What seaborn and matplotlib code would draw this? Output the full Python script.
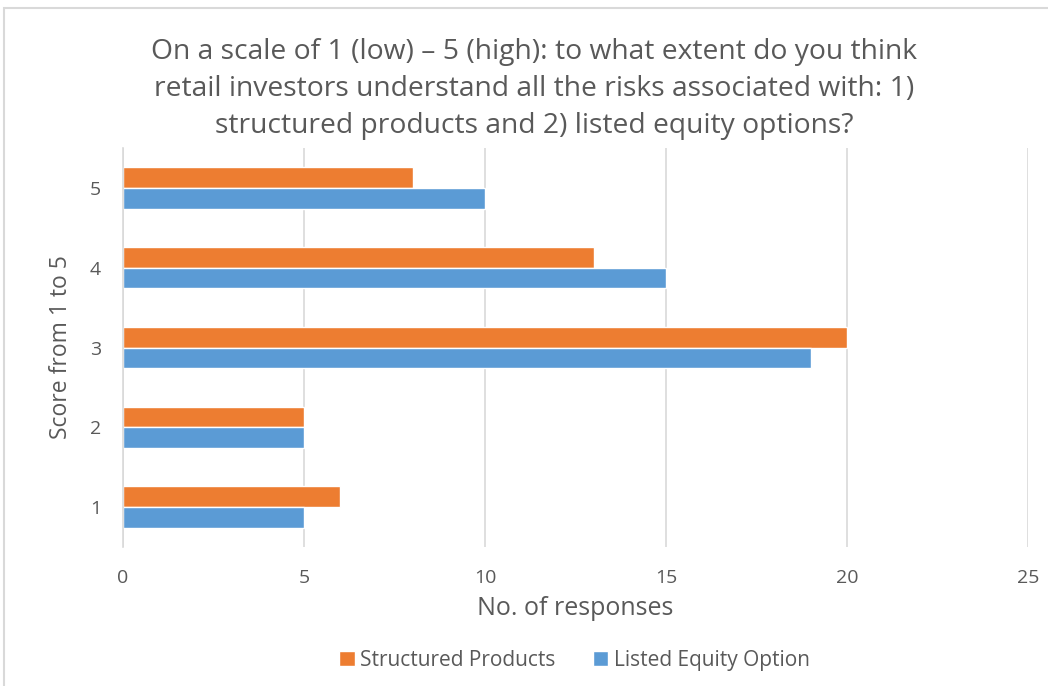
import pandas as pd
import seaborn as sns
import matplotlib.pyplot as plt
from matplotlib.patches import Rectangle

#%% Data
scores = ['5', '4', '3', '2', '1']
structured_products = [8, 13, 20, 5, 6]
listed_equity_option = [10, 15, 19, 5, 5]
series_names = ['Structured Products', 'Listed Equity Option']

df = pd.DataFrame({'Score': scores,
                   series_names[0]: structured_products,
                   series_names[1]: listed_equity_option})
df_long = pd.melt(df, id_vars='Score', var_name='Series', value_name='Responses')

#%% Plotting
sns.set_style('white')
plt.rcParams['font.family'] = ['Open Sans', 'DejaVu Sans']
text_grey = '#595959'

fig = plt.figure(figsize=(10.48, 6.86), dpi=100)
ax = fig.add_axes([0.1174, 0.2026, 0.8636, 0.5816])

sns.barplot(data=df_long, y='Score', x='Responses', hue='Series',
            order=scores, hue_order=series_names,
            palette=['#ED7D31', '#5B9BD5'], orient='h',
            width=0.52, saturation=1, ax=ax)

ax.set_xlim(0, 25)
ax.set_xticks(range(0, 26, 5))
ax.grid(axis='x', color='#D9D9D9', linewidth=1.2)
ax.set_axisbelow(True)
for side in ['top', 'right', 'bottom']:
    ax.spines[side].set_visible(False)
ax.spines['left'].set_color('#D9D9D9')
ax.spines['left'].set_linewidth(1.2)
ax.tick_params(axis='both', length=0, labelsize=14, labelcolor=text_grey, pad=16)
ax.tick_params(axis='x', pad=16)

ax.set_xlabel('No. of responses', fontsize=18, color=text_grey, labelpad=6)
ax.set_ylabel('Score from 1 to 5', fontsize=16.5, color=text_grey, labelpad=12)

fig.text(0.51, 0.870,
         'On a scale of 1 (low) \u2013 5 (high): to what extent do you think\n'
         'retail investors understand all the risks associated with: 1)\n'
         'structured products and 2) listed equity options?',
         ha='center', va='center', fontsize=20.3, color=text_grey,
         linespacing=1.43)

handles, labels = ax.get_legend_handles_labels()
ax.legend_.remove()
fig.legend(handles, labels, loc='center', bbox_to_anchor=(0.548, 0.037),
           ncol=2, frameon=False, fontsize=15, labelcolor=text_grey,
           handlelength=0.75, handleheight=0.75, handletextpad=0.25,
           columnspacing=1.8)

# chart frame
fig.patches.append(Rectangle((4 / 1048, -0.05), 1.2, (686 - 8) / 686 + 0.05,
                             transform=fig.transFigure, fill=False,
                             edgecolor='#D9D9D9', linewidth=1.5))

plt.savefig('out.png', dpi=100)
